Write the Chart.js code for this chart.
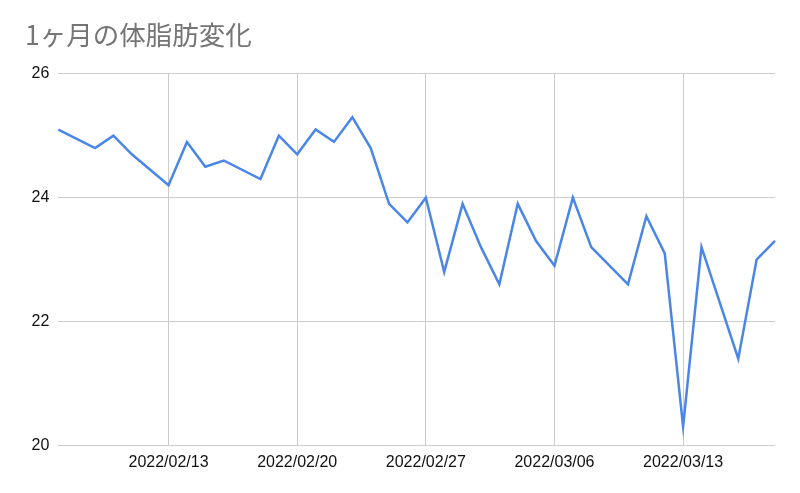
<!DOCTYPE html>
<html>
<head>
<meta charset="utf-8">
<script src="https://cdn.jsdelivr.net/npm/chart.js@4"></script>
<style>
  html, body { margin: 0; padding: 0; background: #fff; }
  #wrap { width: 800px; height: 493px; }
</style>
</head>
<body>
<div id="wrap"><canvas id="chart-area"></canvas></div>
<script>
var dates = [
  '2022/02/07', '2022/02/08', '2022/02/09', '2022/02/10', '2022/02/11', '2022/02/12', '2022/02/13',
  '2022/02/14', '2022/02/15', '2022/02/16', '2022/02/17', '2022/02/18', '2022/02/19', '2022/02/20',
  '2022/02/21', '2022/02/22', '2022/02/23', '2022/02/24', '2022/02/25', '2022/02/26', '2022/02/27',
  '2022/02/28', '2022/03/01', '2022/03/02', '2022/03/03', '2022/03/04', '2022/03/05', '2022/03/06',
  '2022/03/07', '2022/03/08', '2022/03/09', '2022/03/10', '2022/03/11', '2022/03/12', '2022/03/13',
  '2022/03/14', '2022/03/15', '2022/03/16', '2022/03/17', '2022/03/18'
];

// body fat %, null = no measurement that day
var bodyFat = [
  25.1, null, 24.8, 25.0, 24.7, null, 24.2,
  24.9, 24.5, 24.6, null, 24.3, 25.0, 24.7,
  25.1, 24.9, 25.3, 24.8, 23.9, 23.6, 24.0,
  22.8, 23.9, 23.2, 22.6, 23.9, 23.3, 22.9,
  24.0, 23.2, null, 22.6, 23.7, 23.1, 20.3,
  23.2, null, 21.4, 23.0, 23.3
];

var tickDates = ['2022/02/13', '2022/02/20', '2022/02/27', '2022/03/06', '2022/03/13'];
var yTicks = [20, 22, 24, 26];

var gridColor = '#cccccc';
var tickFont = { family: '"Liberation Sans", Arial, sans-serif', size: 16 };

var config = {
  type: 'line',
  data: {
    labels: dates,
    datasets: [{
      label: '体脂肪',
      data: bodyFat,
      borderColor: '#4a86e8',
      borderWidth: 2.5,
      pointRadius: 0,
      pointHoverRadius: 0,
      tension: 0,
      spanGaps: true,
      fill: false
    }]
  },
  options: {
    responsive: true,
    maintainAspectRatio: false,
    animation: false,
    layout: { padding: { left: 25, right: 25, top: 0, bottom: 0 } },
    plugins: {
      legend: { display: false },
      tooltip: { enabled: false },
      title: {
        display: true,
        text: '1ヶ月の体脂肪変化',
        align: 'start',
        color: '#757575',
        font: { family: '"Noto Sans CJK JP", "Noto Sans", sans-serif', size: 26.5, weight: 'normal' },
        padding: { top: 19, bottom: 23 }
      }
    },
    scales: {
      x: {
        offset: false,
        grid: { color: gridColor, lineWidth: 1, drawTicks: false },
        border: { display: false },
        ticks: {
          autoSkip: false,
          maxRotation: 0,
          padding: 8,
          color: '#111',
          font: tickFont,
          callback: function (value) {
            var lbl = this.getLabelForValue(value);
            return tickDates.indexOf(lbl) >= 0 ? lbl : null;
          }
        },
        afterFit: function (scale) { scale.height = 47.7; }
      },
      y: {
        min: yTicks[0],
        max: yTicks[yTicks.length - 1],
        grid: { color: gridColor, lineWidth: 1, drawTicks: false },
        border: { display: false },
        ticks: {
          stepSize: 2,
          padding: 9,
          color: '#111',
          font: tickFont
        },
        afterFit: function (scale) { scale.width = 33.3; }
      }
    }
  }
};

window.onload = function () {
  var ctx = document.getElementById('chart-area').getContext('2d');
  window.myLine = new Chart(ctx, config);
};
</script>
</body>
</html>
